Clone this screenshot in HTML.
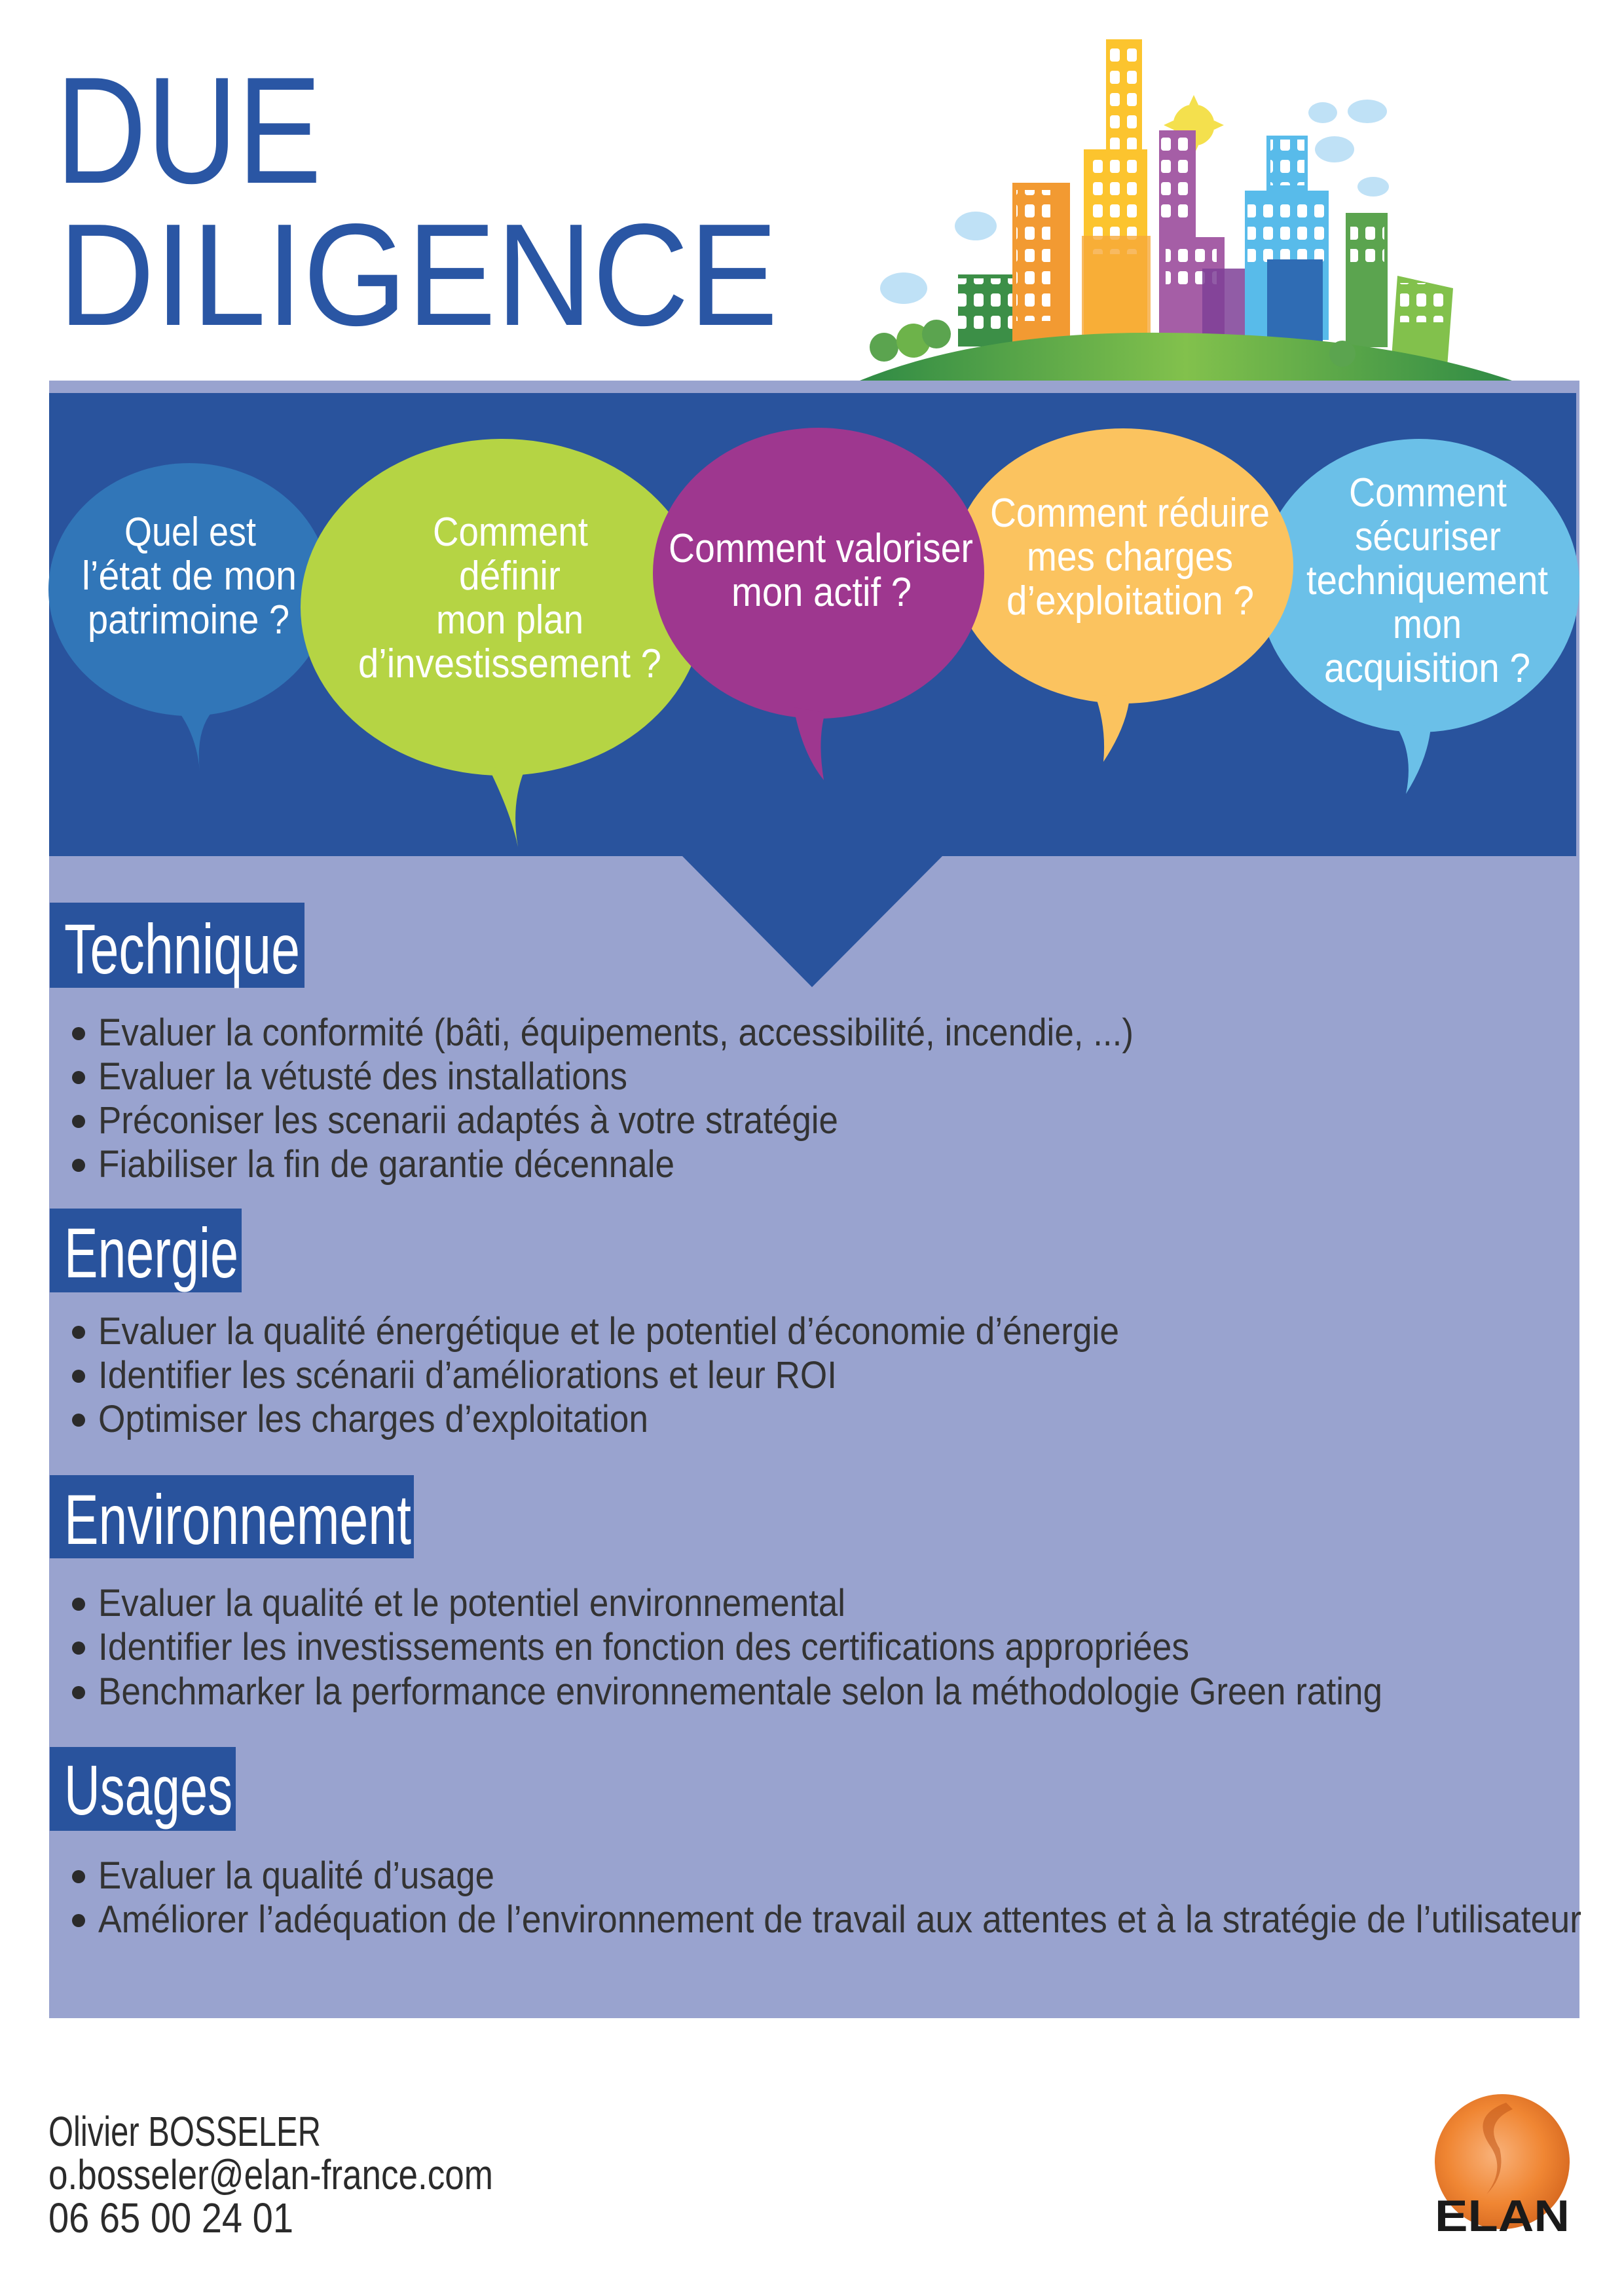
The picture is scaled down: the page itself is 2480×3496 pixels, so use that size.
<!DOCTYPE html>
<html><head><meta charset="utf-8"><style>
html,body{margin:0;padding:0;background:#fff;}
svg{display:block;}
text{font-family:"Liberation Sans",sans-serif;}
</style></head><body>
<svg width="2480" height="3496" viewBox="0 0 2480 3496" xmlns="http://www.w3.org/2000/svg">
<defs>
<pattern id="win" width="26" height="34" patternUnits="userSpaceOnUse"><rect x="5" y="6" width="15" height="20" rx="4" fill="#fff"/></pattern>
<linearGradient id="hill" x1="0" x2="1" y1="0" y2="0"><stop offset="0" stop-color="#2f8a45"/><stop offset="0.5" stop-color="#82c14c"/><stop offset="1" stop-color="#2f8a45"/></linearGradient>
<radialGradient id="orb" cx="0.45" cy="0.45" r="0.6"><stop offset="0" stop-color="#f9b27a"/><stop offset="0.6" stop-color="#f08633"/><stop offset="1" stop-color="#d5671f"/></radialGradient>
</defs>

<text x="85" y="279" font-size="232" fill="#2a56a4" textLength="406" lengthAdjust="spacingAndGlyphs">DUE</text>
<text x="89" y="496" font-size="222" fill="#2a56a4" textLength="1099" lengthAdjust="spacingAndGlyphs">DILIGENCE</text>

<g>
<ellipse cx="1380" cy="440" rx="36" ry="24" fill="#bfe1f6"/>
<ellipse cx="1490" cy="345" rx="32" ry="22" fill="#bfe1f6"/>
<ellipse cx="2038" cy="228" rx="30" ry="20" fill="#bfe1f6"/>
<ellipse cx="2088" cy="170" rx="30" ry="18" fill="#bfe1f6"/>
<ellipse cx="2020" cy="172" rx="22" ry="16" fill="#bfe1f6"/>
<ellipse cx="2097" cy="285" rx="24" ry="15" fill="#bfe1f6"/>
<circle cx="1823" cy="191" r="34" fill="#f4e04d" stroke="#fff" stroke-width="5"/>
<g fill="#f4e04d"><polygon points="1823,145 1830,160 1816,160"/><polygon points="1823,237 1830,222 1816,222"/><polygon points="1777,191 1792,184 1792,198"/><polygon points="1869,191 1854,184 1854,198"/></g>
<rect x="1463" y="419" width="89" height="110" fill="#3c8f47"/><rect x="1463" y="425" width="89" height="90" fill="url(#win)"/>
<rect x="1546" y="279" width="88" height="250" fill="#f29a32"/><rect x="1552" y="290" width="52" height="200" fill="url(#win)"/>
<rect x="1689" y="60" width="55" height="180" fill="#fcc42e"/><rect x="1693" y="65" width="52" height="165" fill="url(#win)"/>
<rect x="1655" y="228" width="97" height="300" fill="#fcc42e"/><rect x="1660" y="238" width="78" height="150" fill="url(#win)"/>
<rect x="1652" y="360" width="105" height="170" fill="#f6a93a" opacity="0.8"/>
<rect x="1770" y="199" width="56" height="320" fill="#a55ea6"/><rect x="1773" y="205" width="52" height="140" fill="url(#win)"/>
<rect x="1770" y="362" width="100" height="155" fill="#a55ea6"/><rect x="1780" y="375" width="78" height="70" fill="url(#win)"/>
<rect x="1836" y="410" width="80" height="110" fill="#7e3f96" opacity="0.85"/>
<rect x="1934" y="207" width="63" height="90" fill="#58bbea"/><rect x="1940" y="213" width="52" height="70" fill="url(#win)"/>
<rect x="1901" y="291" width="128" height="228" fill="#58bbea"/><rect x="1905" y="298" width="120" height="110" fill="url(#win)"/>
<rect x="1935" y="396" width="85" height="125" fill="#2f6cb4"/>
<rect x="2055" y="325" width="64" height="205" fill="#5ba44f"/><rect x="2062" y="333" width="52" height="70" fill="url(#win)"/>
<polygon points="2134,421 2219,440 2210,560 2124,560" fill="#82c14c"/><rect x="2138" y="432" width="70" height="60" fill="url(#win)"/>
<path d="M1313 581 Q1500 505 1780 508 Q2100 510 2309 581 Z" fill="url(#hill)"/>
<circle cx="1350" cy="530" r="22" fill="#5ba44f"/><circle cx="1395" cy="520" r="26" fill="#6db34a"/><circle cx="1430" cy="510" r="22" fill="#5ba44f"/>
<circle cx="2050" cy="540" r="20" fill="#5ba44f"/>
</g>

<rect x="75" y="581" width="2337" height="2500" fill="#99a3cf"/>
<rect x="75" y="600" width="2332" height="707" fill="#29539d"/>
<polygon points="1041,1306 1440,1306 1240,1507" fill="#29539d"/>

<ellipse cx="289" cy="900" rx="215" ry="193" fill="#3176b8"/>
<path d="M268 1080 Q300 1120 305 1177 Q298 1110 330 1080 Z" fill="#3176b8"/>
<ellipse cx="2167" cy="894" rx="245" ry="224" fill="#6bc0e8"/>
<path d="M2130 1105 Q2160 1150 2147 1212 Q2180 1160 2185 1110 Z" fill="#6bc0e8"/>
<ellipse cx="767" cy="927" rx="308" ry="257" fill="#b5d444"/>
<path d="M745 1170 Q780 1240 791 1293 Q780 1230 800 1178 Z" fill="#b5d444"/>
<ellipse cx="1715" cy="864" rx="260" ry="210" fill="#fbc35f"/>
<path d="M1672 1060 Q1690 1110 1685 1163 Q1720 1110 1725 1065 Z" fill="#fbc35f"/>
<ellipse cx="1250" cy="875" rx="253" ry="222" fill="#9e378f"/>
<path d="M1212 1080 Q1225 1150 1258 1191 Q1248 1130 1260 1088 Z" fill="#9e378f"/>

<g fill="#fff" font-size="62">
<text x="190" y="833" textLength="201" lengthAdjust="spacingAndGlyphs">Quel est</text>
<text x="125" y="900" textLength="328" lengthAdjust="spacingAndGlyphs">l’état de mon</text>
<text x="134" y="967" textLength="308" lengthAdjust="spacingAndGlyphs">patrimoine ?</text>
<text x="661" y="833" textLength="237" lengthAdjust="spacingAndGlyphs">Comment</text>
<text x="701" y="900" textLength="155" lengthAdjust="spacingAndGlyphs">définir</text>
<text x="666" y="967" textLength="225" lengthAdjust="spacingAndGlyphs">mon plan</text>
<text x="547" y="1034" textLength="463" lengthAdjust="spacingAndGlyphs">d’investissement ?</text>
<text x="1021" y="858" textLength="465" lengthAdjust="spacingAndGlyphs">Comment valoriser</text>
<text x="1117" y="925" textLength="275" lengthAdjust="spacingAndGlyphs">mon actif ?</text>
<text x="1512" y="804" textLength="427" lengthAdjust="spacingAndGlyphs">Comment réduire</text>
<text x="1568" y="871" textLength="315" lengthAdjust="spacingAndGlyphs">mes charges</text>
<text x="1537" y="938" textLength="378" lengthAdjust="spacingAndGlyphs">d’exploitation ?</text>
<text x="2060" y="773" textLength="241" lengthAdjust="spacingAndGlyphs">Comment</text>
<text x="2069" y="840" textLength="223" lengthAdjust="spacingAndGlyphs">sécuriser</text>
<text x="1995" y="907" textLength="369" lengthAdjust="spacingAndGlyphs">techniquement</text>
<text x="2127" y="974" textLength="105" lengthAdjust="spacingAndGlyphs">mon</text>
<text x="2022" y="1041" textLength="315" lengthAdjust="spacingAndGlyphs">acquisition ?</text>
</g>

<g fill="#29539d">
<rect x="76" y="1378" width="389" height="130"/>
<rect x="76" y="1845" width="293" height="128"/>
<rect x="76" y="2252" width="556" height="127"/>
<rect x="76" y="2667" width="284" height="128"/>
</g>
<g fill="#fff" font-size="108">
<text x="98" y="1486" textLength="360" lengthAdjust="spacingAndGlyphs">Technique</text>
<text x="98" y="1950" textLength="266" lengthAdjust="spacingAndGlyphs">Energie</text>
<text x="98" y="2357" textLength="530" lengthAdjust="spacingAndGlyphs">Environnement</text>
<text x="98" y="2770" textLength="257" lengthAdjust="spacingAndGlyphs">Usages</text>
</g>

<g fill="#2b2b2b">
<circle cx="120" cy="1578" r="10"/><circle cx="120" cy="1645" r="10"/><circle cx="120" cy="1712" r="10"/><circle cx="120" cy="1779" r="10"/>
<circle cx="120" cy="2034" r="10"/><circle cx="120" cy="2101" r="10"/><circle cx="120" cy="2168" r="10"/>
<circle cx="120" cy="2449" r="10"/><circle cx="120" cy="2516" r="10"/><circle cx="120" cy="2584" r="10"/>
<circle cx="120" cy="2865" r="10"/><circle cx="120" cy="2932" r="10"/>
</g>
<g fill="#333" font-size="58">
<text x="150" y="1596" textLength="1581" lengthAdjust="spacingAndGlyphs">Evaluer la conformité (bâti, équipements, accessibilité, incendie, ...)</text>
<text x="150" y="1663" textLength="808" lengthAdjust="spacingAndGlyphs">Evaluer la vétusté des installations</text>
<text x="150" y="1730" textLength="1130" lengthAdjust="spacingAndGlyphs">Préconiser les scenarii adaptés à votre stratégie</text>
<text x="150" y="1797" textLength="880" lengthAdjust="spacingAndGlyphs">Fiabiliser la fin de garantie décennale</text>
<text x="150" y="2052" textLength="1559" lengthAdjust="spacingAndGlyphs">Evaluer la qualité énergétique et le potentiel d’économie d’énergie</text>
<text x="150" y="2119" textLength="1128" lengthAdjust="spacingAndGlyphs">Identifier les scénarii d’améliorations et leur ROI</text>
<text x="150" y="2186" textLength="840" lengthAdjust="spacingAndGlyphs">Optimiser les charges d’exploitation</text>
<text x="150" y="2467" textLength="1141" lengthAdjust="spacingAndGlyphs">Evaluer la qualité et le potentiel environnemental</text>
<text x="150" y="2534" textLength="1666" lengthAdjust="spacingAndGlyphs">Identifier les investissements en fonction des certifications appropriées</text>
<text x="150" y="2602" textLength="1961" lengthAdjust="spacingAndGlyphs">Benchmarker la performance environnementale selon la méthodologie Green rating</text>
<text x="150" y="2883" textLength="605" lengthAdjust="spacingAndGlyphs">Evaluer la qualité d’usage</text>
<text x="150" y="2950" textLength="2265" lengthAdjust="spacingAndGlyphs">Améliorer l’adéquation de l’environnement de travail aux attentes et à la stratégie de l’utilisateur</text>
</g>

<g fill="#2b2b2b" font-size="64">
<text x="74" y="3276" textLength="416" lengthAdjust="spacingAndGlyphs">Olivier BOSSELER</text>
<text x="74" y="3342" textLength="679" lengthAdjust="spacingAndGlyphs">o.bosseler@elan-france.com</text>
<text x="74" y="3408" textLength="374" lengthAdjust="spacingAndGlyphs">06 65 00 24 01</text>
</g>

<circle cx="2294" cy="3300" r="103" fill="url(#orb)"/>
<path d="M2300 3210 Q2245 3230 2275 3275 Q2300 3310 2270 3350 Q2300 3320 2290 3280 Q2265 3240 2310 3220 Z" fill="#c45a1a" opacity="0.6"/>
<text x="2191" y="3406" font-size="68" font-weight="bold" fill="#1a1a1a" textLength="206" lengthAdjust="spacingAndGlyphs">ELAN</text>
</svg>
</body></html>
